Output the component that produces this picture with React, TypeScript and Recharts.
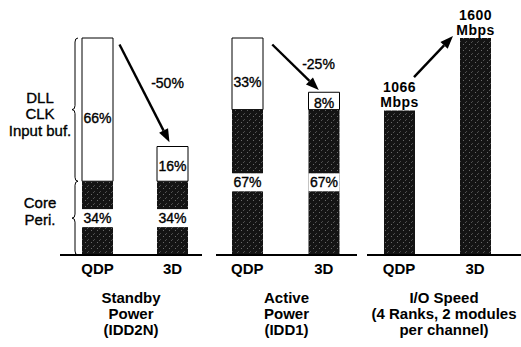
import React from 'react';
import { BarChart, Bar, XAxis, YAxis, LabelList, Label, ReferenceLine, ReferenceArea } from 'recharts';

const categories = ['QDP', '3D'];
const standbyCore = [34, 34];
const standbyDll = [66, 16];
const activeCore = [67, 67];
const activeDll = [33, 8];
const ioSpeed = [1066, 1600];

const standbyTitle = ['Standby', 'Power', '(IDD2N)'];
const activeTitle = ['Active', 'Power', '(IDD1)'];
const ioTitle = ['I/O Speed', '(4 Ranks, 2 modules', 'per channel)'];

const standbyData = categories.map((name, i) => ({ name, core: standbyCore[i], dll: standbyDll[i] }));
const activeData = categories.map((name, i) => ({ name, core: activeCore[i], dll: activeDll[i] }));
const ioData = categories.map((name, i) => ({ name, speed: ioSpeed[i] }));

const FONT = '"Liberation Sans", Arial, sans-serif';
const DARK = 'url(#speckle)';
// scanned text looks a bit heavier than plain regular
const THICK = { stroke: '#000', strokeWidth: 0.35 };

const chartStyle: React.CSSProperties = { position: 'absolute', left: 0, top: 0 };

const CategoryTick = ({ x, y, payload }: any) => (
  <text x={x} y={y + 19} textAnchor="middle" fontFamily={FONT} fontWeight="bold" fontSize={15} fill="#000">
    {payload.value}
  </text>
);

const titleContent = (lines: string[]) => (props: any) => {
  const { x, y, width } = props.viewBox;
  return (
    <text textAnchor="middle" fontFamily={FONT} fontWeight="bold" fontSize={15} fill="#000">
      {lines.map((l, i) => (
        <tspan key={l} x={x + width / 2} y={y + 48 + i * 16}>{l}</tspan>
      ))}
    </text>
  );
};

// white box with the share written in it, sits on the dark part
const DarkLabel = (props: any) => {
  const { x, y, width, height, value } = props;
  const cy = y + height / 2;
  return (
    <g>
      <rect x={x} y={cy - 9} width={width} height={18} fill="#fff" />
      <text x={x + width / 2} y={cy + 5} textAnchor="middle" fontFamily={FONT} fontSize={14} fill="#000" {...THICK}>
        {value}%
      </text>
    </g>
  );
};

const LightLabel = (props: any) => {
  const { x, y, width, height, value } = props;
  const cy = y + height / 2 + (height > 40 ? 8 : 2);
  return (
    <text x={x + width / 2} y={cy + 5} textAnchor="middle" fontFamily={FONT} fontSize={14} fill="#000" {...THICK}>
      {value}%
    </text>
  );
};

const SpeedLabel = (props: any) => {
  const { x, y, width, value } = props;
  return (
    <text textAnchor="middle" fontFamily={FONT} fontWeight="bold" fontSize={14} fill="#000" letterSpacing={0.5}>
      <tspan x={x + width / 2} y={y - 18}>{value}</tspan>
      <tspan x={x + width / 2} y={y - 3}>Mbps</tspan>
    </text>
  );
};

const arrow = (dx1: number, dx2: number, text?: string, tdx = 0, tdy = 0) => (props: any) => {
  const x1 = props.x1 + dx1;
  const x2 = props.x2 + dx2;
  const { y1, y2 } = props;
  const ang = Math.atan2(y2 - y1, x2 - x1);
  const len = 13;
  const half = 5;
  const bx = x2 - len * Math.cos(ang);
  const by = y2 - len * Math.sin(ang);
  const px = -Math.sin(ang) * half;
  const py = Math.cos(ang) * half;
  return (
    <g>
      <line x1={x1} y1={y1} x2={bx} y2={by} stroke="#000" strokeWidth={2.4} />
      <polygon points={`${x2},${y2} ${bx + px},${by + py} ${bx - px},${by - py}`} fill="#000" />
      {text && (
        <text x={(x1 + x2) / 2 + tdx} y={(y1 + y2) / 2 + tdy} textAnchor="middle" fontFamily={FONT} fontSize={14} fill="#000" {...THICK}>
          {text}
        </text>
      )}
    </g>
  );
};

const brace = (lines: string[], lineY: number) => (props: any) => {
  const { x, y, height } = props;
  const bx = x + 15;
  const top = y;
  const bot = y + height;
  const mid = y + height / 2;
  const d = `M${bx + 3},${top} Q${bx},${top} ${bx},${top + 4} L${bx},${mid - 4} Q${bx},${mid} ${bx - 3},${mid} Q${bx},${mid} ${bx},${mid + 4} L${bx},${bot - 4} Q${bx},${bot} ${bx + 3},${bot}`;
  return (
    <g>
      <path d={d} fill="none" stroke="#000" strokeWidth={1} />
      <text textAnchor="middle" fontFamily={FONT} fontSize={15} fill="#000" {...THICK}>
        {lines.map((l, i) => (
          <tspan key={l} x={x - 20} y={mid + lineY + i * 16.5}>{l}</tspan>
        ))}
      </text>
    </g>
  );
};

const App = () => {
  return (
    <div style={{ position: 'absolute', left: 0, top: 0, width: 521, height: 347, background: '#fff' }}>
      <svg width={0} height={0} style={{ position: 'absolute' }}>
        <defs>
          <pattern id="speckle" width={6} height={6} patternUnits="userSpaceOnUse">
            <rect width={6} height={6} fill="#141414" />
            <rect x={1} y={2} width={1} height={1} fill="#6a6a6a" />
            <rect x={4} y={5} width={1} height={1} fill="#4a4a4a" />
            <rect x={3} y={0} width={1} height={1} fill="#555" />
          </pattern>
        </defs>
      </svg>

      <BarChart width={521} height={347} data={standbyData} margin={{ top: 38, right: 319, bottom: 0, left: 60 }} style={chartStyle}>
        <XAxis dataKey="name" height={92} tickLine={false} tickSize={0} tickMargin={0} tick={<CategoryTick />} axisLine={{ stroke: '#000', strokeWidth: 2 }} padding={{ left: 0, right: -8 }}>
          <Label content={titleContent(standbyTitle)} />
        </XAxis>
        <YAxis hide domain={[0, 100]} />
        <ReferenceArea y1={34} y2={100} ifOverflow="visible" shape={brace(['DLL', 'CLK', 'Input buf.'], -7)} />
        <ReferenceArea y1={0} y2={34} ifOverflow="visible" shape={brace(['Core', 'Peri.'], -10)} />
        <Bar dataKey="core" stackId="a" fill={DARK} barSize={31} isAnimationActive={false}>
          <LabelList dataKey="core" content={<DarkLabel />} />
        </Bar>
        <Bar dataKey="dll" stackId="a" fill="#fff" stroke="#000" strokeWidth={1} barSize={31} isAnimationActive={false}>
          <LabelList dataKey="dll" content={<LightLabel />} />
        </Bar>
        <ReferenceLine segment={[{ x: 'QDP', y: 97 }, { x: '3D', y: 52 }]} ifOverflow="visible" shape={arrow(22, -3, '-50%', 23, -5)} />
      </BarChart>

      <BarChart width={521} height={347} data={activeData} margin={{ top: 38, right: 164, bottom: 0, left: 216 }} style={chartStyle}>
        <XAxis dataKey="name" height={92} tickLine={false} tickSize={0} tickMargin={0} tick={<CategoryTick />} axisLine={{ stroke: '#000', strokeWidth: 2 }} padding={{ left: -7, right: -5 }}>
          <Label content={titleContent(activeTitle)} />
        </XAxis>
        <YAxis hide domain={[0, 100]} />
        <Bar dataKey="core" stackId="a" fill={DARK} barSize={31} isAnimationActive={false}>
          <LabelList dataKey="core" content={<DarkLabel />} />
        </Bar>
        <Bar dataKey="dll" stackId="a" fill="#fff" stroke="#000" strokeWidth={1} barSize={31} isAnimationActive={false}>
          <LabelList dataKey="dll" content={<LightLabel />} />
        </Bar>
        <ReferenceLine segment={[{ x: 'QDP', y: 97 }, { x: '3D', y: 76 }]} ifOverflow="visible" shape={arrow(25, -5, '-25%', 23, 2)} />
      </BarChart>

      <BarChart width={521} height={347} data={ioData} margin={{ top: 38, right: 0, bottom: 0, left: 367 }} style={chartStyle}>
        <XAxis dataKey="name" height={92} tickLine={false} tickSize={0} tickMargin={0} tick={<CategoryTick />} axisLine={{ stroke: '#000', strokeWidth: 2 }} padding={{ left: -6, right: 8 }}>
          <Label content={titleContent(ioTitle)} />
        </XAxis>
        <YAxis hide domain={[0, 1600]} />
        <Bar dataKey="speed" fill={DARK} barSize={31} isAnimationActive={false}>
          <LabelList dataKey="speed" content={<SpeedLabel />} />
        </Bar>
        <ReferenceLine segment={[{ x: 'QDP', y: 1311 }, { x: '3D', y: 1615 }]} ifOverflow="visible" shape={arrow(15, -22)} />
      </BarChart>
    </div>
  );
};

export default App;
